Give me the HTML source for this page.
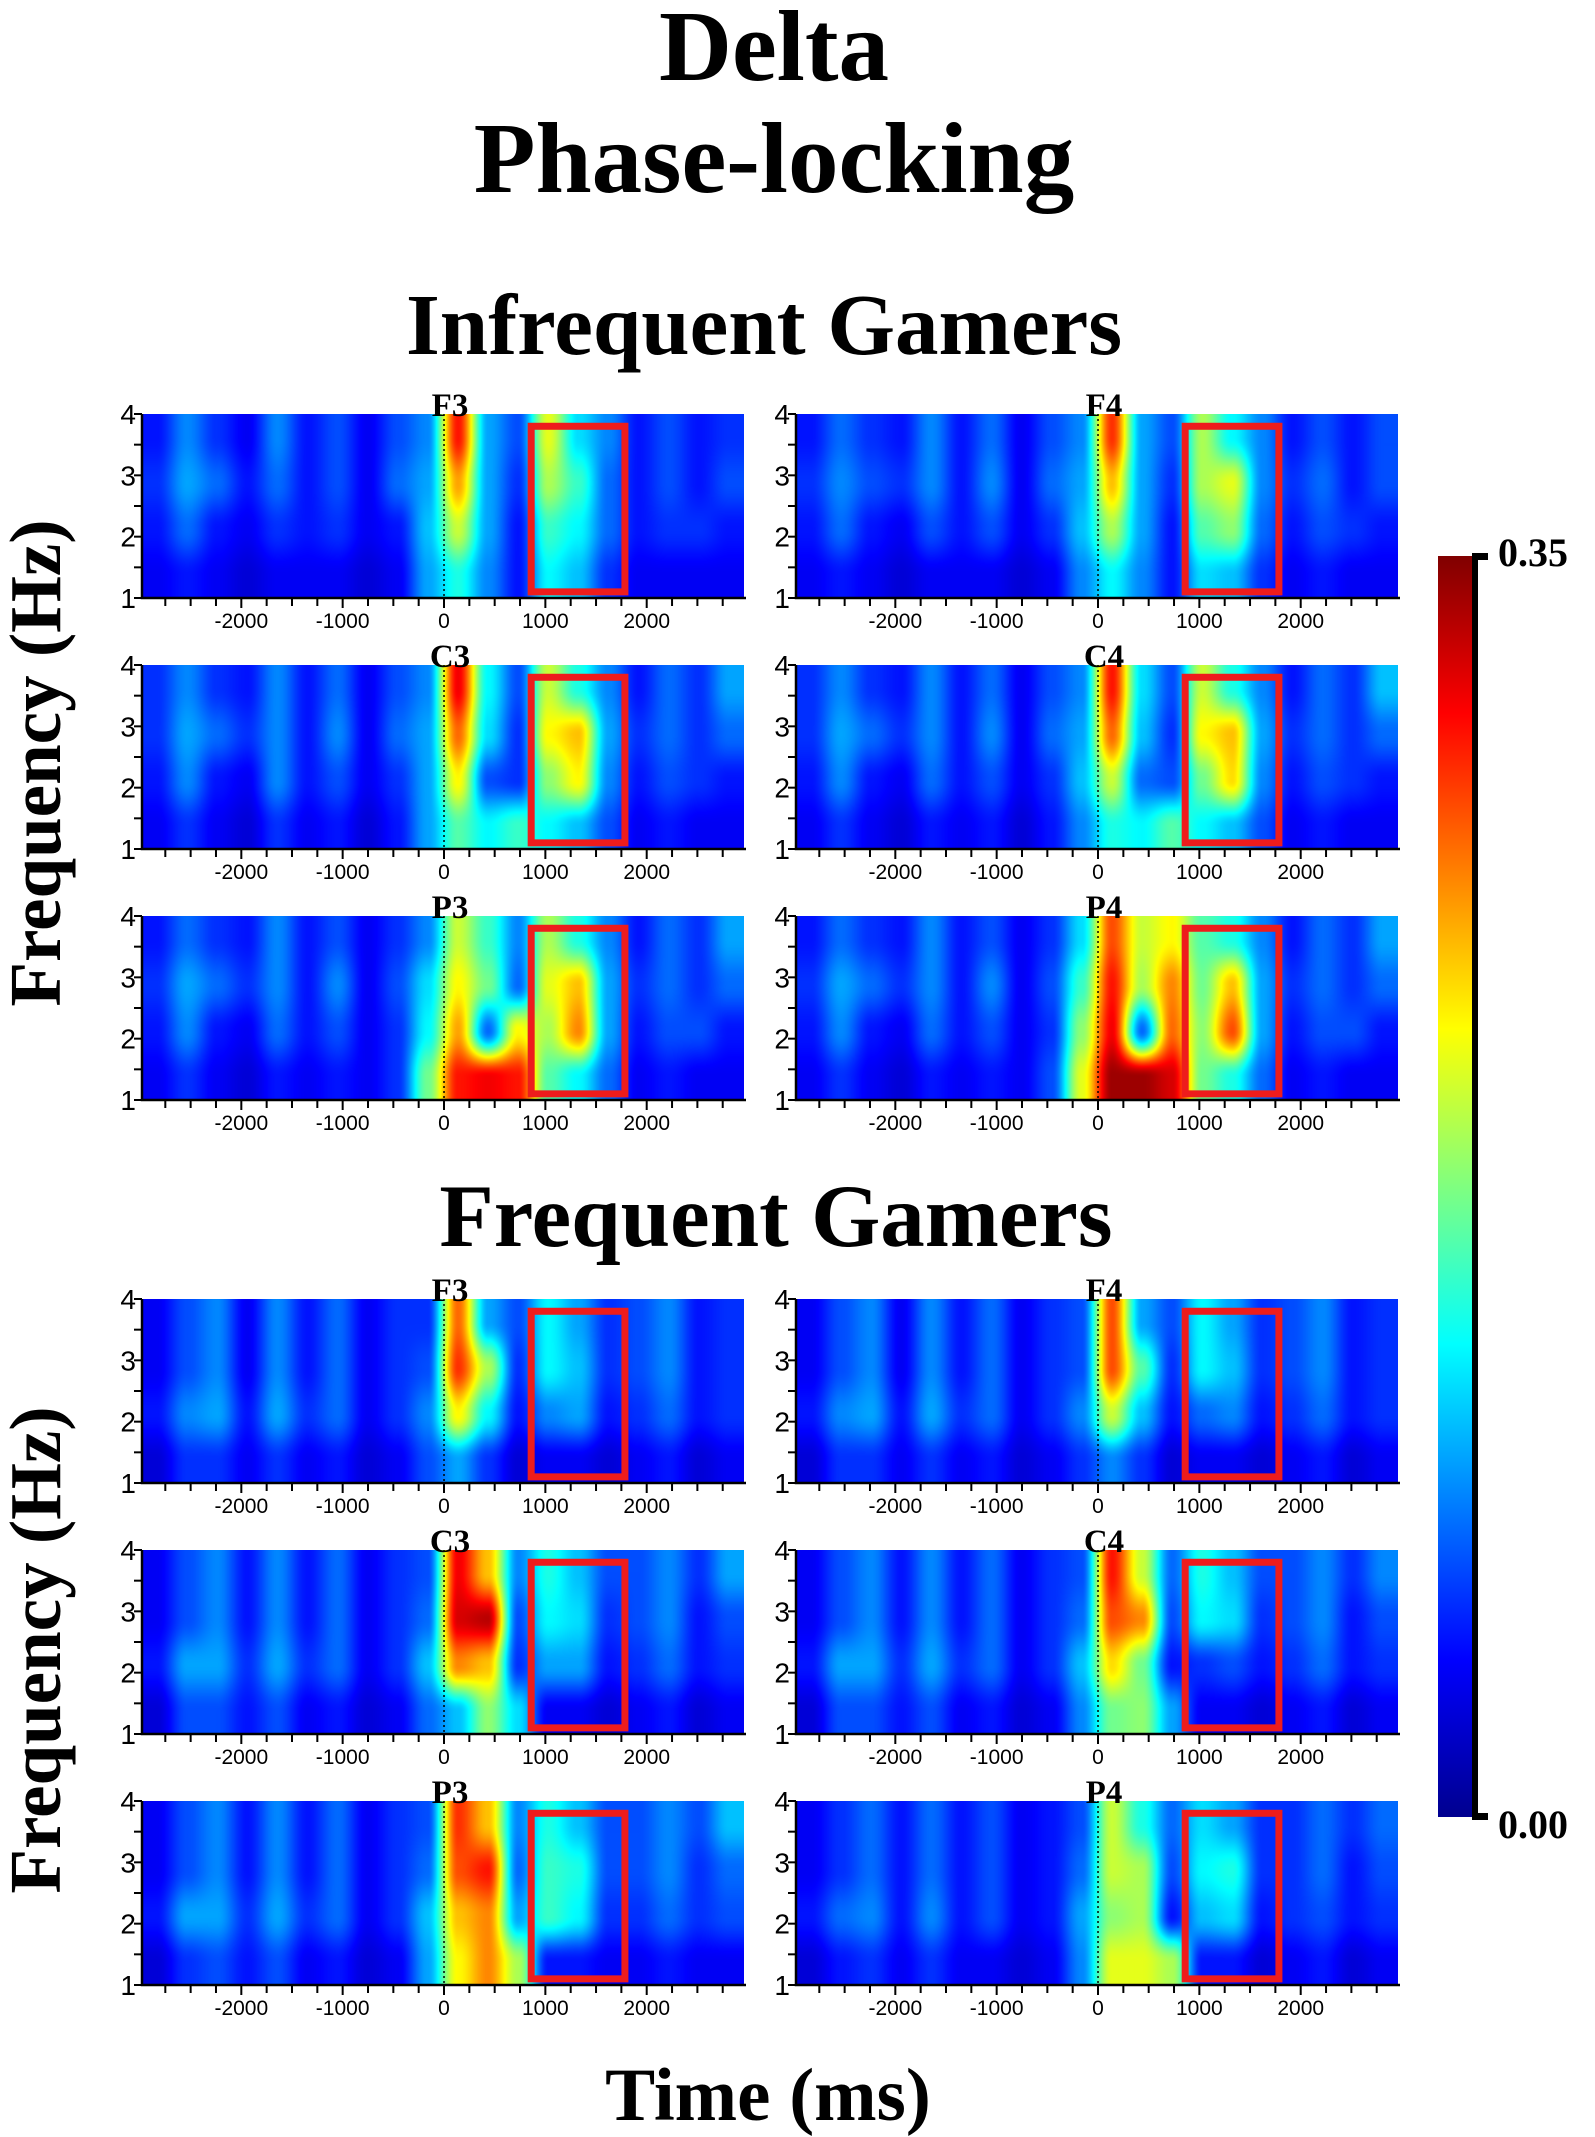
<!DOCTYPE html>
<html><head><meta charset="utf-8">
<style>
html,body{margin:0;padding:0;background:#fff;}
#wrap{position:relative;width:1595px;height:2137px;overflow:hidden;background:#fff;}
canvas{position:absolute;}
svg{position:absolute;left:0;top:0;}
.t{font-family:"Liberation Serif",serif;font-weight:bold;fill:#000;}
.tk{font-family:"Liberation Sans",sans-serif;fill:#000;}
</style></head>
<body>
<div id="wrap">
<svg id="svg" width="1595" height="2137">
<text class="t" x="774" y="80" font-size="101" text-anchor="middle">Delta</text>
<text class="t" x="774" y="192" font-size="101" text-anchor="middle">Phase-locking</text>
<text class="t" x="764" y="354" font-size="87" text-anchor="middle">Infrequent Gamers</text>
<text class="t" x="776" y="1246" font-size="89" text-anchor="middle">Frequent Gamers</text>
<text class="t" x="768" y="2120" font-size="75" text-anchor="middle">Time (ms)</text>
<text class="t" x="0" y="0" font-size="73" text-anchor="middle" transform="translate(60,763) rotate(-90)">Frequency (Hz)</text>
<text class="t" x="0" y="0" font-size="73" text-anchor="middle" transform="translate(60,1650) rotate(-90)">Frequency (Hz)</text>
<defs>
<linearGradient id="jet" x1="0" y1="1" x2="0" y2="0">
<stop offset="0" stop-color="#00008f"/><stop offset="0.125" stop-color="#0000ff"/>
<stop offset="0.375" stop-color="#00ffff"/><stop offset="0.625" stop-color="#ffff00"/>
<stop offset="0.875" stop-color="#ff0000"/><stop offset="1" stop-color="#800000"/>
</linearGradient>
</defs>
<rect x="1438" y="556" width="35" height="1261" fill="url(#jet)"/>
<rect x="1472" y="556" width="6" height="1261" fill="#000"/>
<rect x="1472" y="553" width="16" height="7" fill="#000"/>
<rect x="1472" y="1813" width="16" height="7" fill="#000"/>
<text class="t" x="1498" y="566" font-size="40">0.35</text>
<text class="t" x="1498" y="1838" font-size="40">0.00</text>
</svg>
</div>
<script>
// ---- data ----
const channels = ["F3","F4","C3","C4","P3","P4"];
const timeTicks = [-2000,-1000,0,1000,2000];
const freqTicks = [1,2,3,4];
const timeRange = [-2980,2960];
const freqRange = [1,4];
const boxTime = [860,1785];
const boxFreq = [1.1,3.8];
const vmax = 0.35;
// each grid: 4 rows (4Hz→1Hz) × 20 time columns (-2830..2813 ms)
const infF3 = [
[.05,.09,.06,.04,.09,.05,.07,.04,.07,.09,.30,.10,.07,.21,.12,.09,.05,.07,.05,.06],
[.06,.10,.08,.05,.08,.05,.07,.04,.08,.10,.25,.10,.06,.19,.15,.08,.05,.07,.05,.07],
[.05,.08,.05,.04,.06,.05,.06,.04,.05,.11,.20,.10,.05,.15,.13,.08,.05,.06,.06,.05],
[.04,.05,.04,.03,.04,.04,.04,.03,.04,.10,.14,.09,.05,.13,.11,.06,.04,.04,.04,.04]];
const infF4 = [
[.05,.08,.06,.05,.09,.05,.08,.04,.07,.09,.29,.10,.07,.19,.13,.09,.05,.07,.05,.07],
[.06,.09,.07,.06,.09,.05,.09,.04,.08,.10,.24,.10,.06,.19,.21,.09,.06,.08,.05,.07],
[.05,.08,.05,.04,.07,.05,.07,.04,.06,.11,.19,.10,.05,.16,.18,.08,.05,.07,.06,.05],
[.04,.05,.04,.03,.04,.04,.04,.03,.04,.09,.13,.09,.05,.12,.11,.06,.04,.05,.04,.04]];
const infC3 = [
[.06,.09,.06,.05,.09,.05,.08,.04,.07,.09,.31,.13,.07,.20,.14,.09,.05,.08,.06,.10],
[.06,.10,.08,.06,.09,.05,.09,.04,.08,.10,.27,.12,.06,.22,.24,.10,.06,.08,.06,.08],
[.05,.09,.05,.04,.09,.05,.07,.04,.06,.10,.22,.07,.06,.18,.22,.09,.05,.07,.06,.05],
[.04,.06,.04,.03,.06,.04,.05,.03,.05,.10,.16,.13,.15,.13,.11,.07,.04,.05,.04,.04]];
const infC4 = [
[.06,.09,.06,.05,.09,.05,.08,.04,.07,.09,.30,.12,.07,.20,.14,.09,.05,.08,.06,.11],
[.06,.10,.08,.06,.09,.05,.09,.04,.08,.10,.27,.11,.06,.22,.24,.10,.06,.08,.06,.08],
[.05,.09,.05,.04,.08,.05,.07,.04,.06,.11,.20,.08,.07,.17,.23,.09,.05,.07,.06,.05],
[.04,.06,.04,.03,.05,.04,.05,.03,.05,.09,.14,.13,.16,.13,.11,.07,.04,.05,.04,.04]];
const infP3 = [
[.05,.08,.06,.05,.09,.05,.07,.04,.06,.09,.20,.15,.09,.19,.14,.09,.05,.08,.06,.10],
[.06,.10,.08,.06,.09,.05,.09,.04,.07,.12,.22,.17,.08,.21,.24,.10,.06,.08,.06,.08],
[.05,.09,.05,.04,.08,.05,.07,.04,.06,.13,.25,.08,.22,.19,.26,.10,.05,.07,.07,.05],
[.04,.06,.04,.03,.05,.04,.05,.04,.06,.17,.30,.31,.30,.16,.13,.08,.04,.05,.04,.04]];
const infP4 = [
[.05,.08,.06,.05,.09,.05,.07,.04,.06,.12,.28,.20,.22,.16,.14,.09,.05,.08,.06,.10],
[.06,.10,.08,.06,.09,.05,.09,.04,.07,.15,.30,.19,.26,.17,.24,.10,.06,.08,.06,.08],
[.05,.09,.05,.04,.08,.05,.07,.04,.06,.18,.31,.08,.27,.18,.28,.10,.05,.07,.07,.05],
[.04,.06,.04,.03,.05,.04,.05,.04,.07,.21,.34,.34,.32,.17,.14,.08,.04,.05,.04,.04]];
const frqF3 = [
[.04,.07,.09,.04,.09,.05,.08,.04,.06,.06,.27,.10,.07,.13,.10,.06,.07,.09,.05,.06],
[.04,.07,.09,.04,.09,.05,.08,.04,.06,.07,.29,.19,.06,.13,.11,.06,.07,.09,.05,.06],
[.05,.09,.10,.05,.10,.06,.08,.04,.06,.09,.22,.13,.05,.09,.10,.05,.06,.08,.05,.06],
[.03,.06,.06,.04,.06,.04,.05,.03,.04,.07,.10,.06,.03,.04,.04,.03,.04,.05,.03,.04]];
const frqF4 = [
[.04,.07,.09,.04,.09,.05,.08,.04,.06,.07,.28,.10,.07,.13,.10,.06,.07,.09,.05,.06],
[.04,.07,.09,.04,.09,.05,.08,.04,.06,.07,.28,.16,.06,.13,.11,.06,.07,.09,.05,.06],
[.05,.09,.10,.05,.10,.06,.08,.04,.06,.09,.20,.11,.05,.08,.09,.05,.06,.08,.05,.06],
[.03,.06,.06,.04,.06,.04,.05,.03,.04,.06,.09,.06,.03,.04,.04,.03,.04,.05,.03,.04]];
const frqC3 = [
[.04,.07,.09,.05,.09,.05,.08,.04,.06,.07,.31,.24,.09,.14,.11,.07,.07,.09,.06,.10],
[.04,.07,.09,.05,.09,.05,.08,.04,.06,.08,.32,.33,.07,.13,.12,.06,.07,.09,.05,.07],
[.05,.10,.10,.06,.10,.06,.08,.04,.06,.11,.26,.24,.06,.10,.10,.05,.06,.08,.05,.06],
[.03,.07,.07,.05,.07,.04,.05,.03,.04,.08,.11,.18,.12,.04,.04,.03,.04,.05,.03,.04]];
const frqC4 = [
[.04,.07,.09,.05,.09,.05,.08,.04,.06,.07,.30,.20,.08,.14,.11,.07,.07,.09,.06,.09],
[.04,.07,.09,.05,.09,.05,.08,.04,.06,.08,.28,.26,.07,.13,.12,.06,.07,.09,.05,.07],
[.05,.10,.10,.06,.10,.06,.08,.04,.06,.11,.23,.17,.05,.06,.07,.05,.06,.08,.05,.06],
[.03,.07,.07,.05,.07,.04,.05,.03,.04,.09,.17,.18,.10,.04,.04,.03,.04,.05,.03,.04]];
const frqP3 = [
[.04,.07,.09,.05,.09,.05,.08,.04,.06,.07,.29,.24,.09,.14,.11,.07,.07,.09,.07,.11],
[.04,.07,.09,.05,.09,.05,.08,.04,.06,.08,.28,.30,.08,.15,.14,.07,.07,.09,.06,.08],
[.05,.10,.10,.06,.10,.06,.08,.04,.06,.11,.24,.26,.10,.15,.13,.06,.06,.08,.06,.07],
[.03,.06,.07,.05,.07,.04,.05,.03,.04,.10,.22,.26,.19,.05,.05,.04,.04,.05,.04,.04]];
const frqP4 = [
[.04,.06,.08,.05,.08,.05,.07,.04,.05,.07,.20,.14,.08,.12,.10,.06,.06,.08,.06,.08],
[.04,.06,.08,.05,.08,.05,.07,.04,.05,.08,.20,.19,.07,.13,.14,.06,.06,.08,.05,.07],
[.05,.08,.09,.05,.09,.05,.07,.04,.05,.10,.18,.19,.05,.11,.12,.05,.06,.07,.05,.06],
[.03,.05,.06,.04,.06,.04,.04,.03,.04,.09,.21,.21,.19,.05,.05,.03,.04,.05,.03,.04]];
const groupGrids = [[infF3,infF4,infC3,infC4,infP3,infP4],[frqF3,frqF4,frqC3,frqC4,frqP3,frqP4]];

// ---- layout ----
const colX = [142,796], PW = 602, PH = 184;
const rowY = [[414,665,916],[1299,1550,1801]];
const svg = document.getElementById('svg');
const wrap = document.getElementById('wrap');
const NS = 'http://www.w3.org/2000/svg';
function mk(tag, attrs){const e=document.createElementNS(NS,tag);for(const k in attrs)e.setAttribute(k,attrs[k]);svg.appendChild(e);return e;}
function cl(x){return Math.max(0,Math.min(1,x));}
function jet(t){return [cl(1.5-Math.abs(4*t-3)),cl(1.5-Math.abs(4*t-2)),cl(1.5-Math.abs(4*t-1))];}
function sm(t){return t*t*(3-2*t);}

groupGrids.forEach((grid_s,g)=>{
  grid_s.forEach((grid,i)=>{
    const x0 = colX[i%2], y0 = rowY[g][Math.floor(i/2)];
    const xs = t => x0 + (t-timeRange[0])/(timeRange[1]-timeRange[0])*PW;
    const ys = f => y0 + PH - (f-freqRange[0])/(freqRange[1]-freqRange[0])*PH;
    const nc = grid[0].length, nr = grid.length;
    const cv = document.createElement('canvas');
    cv.width = PW; cv.height = PH;
    cv.style.left = x0+'px'; cv.style.top = y0+'px';
    
    
    wrap.insertBefore(cv, svg);
    const ctx = cv.getContext('2d');
    const img = ctx.createImageData(PW,PH);
    for(let py=0;py<PH;py++){
      let fy = (py+0.5)/PH*nr-0.5; fy=Math.max(0,Math.min(nr-1,fy));
      const r0=Math.floor(fy), r1=Math.min(nr-1,r0+1), wy=sm(fy-r0);
      for(let px=0;px<PW;px++){
        let fx=(px+0.5)/PW*nc-0.5; fx=Math.max(0,Math.min(nc-1,fx));
        const c0=Math.floor(fx), c1=Math.min(nc-1,c0+1), wx=sm(fx-c0);
        const v=(grid[r0][c0]*(1-wx)+grid[r0][c1]*wx)*(1-wy)+(grid[r1][c0]*(1-wx)+grid[r1][c1]*wx)*wy;
        const c=jet(v/vmax), k=(py*PW+px)*4;
        img.data[k]=c[0]*255; img.data[k+1]=c[1]*255; img.data[k+2]=c[2]*255; img.data[k+3]=255;
      }
    }
    ctx.putImageData(img,0,0);
    const nm = (g?'frequent':'infrequent')+'-'+channels[i].toLowerCase();
    const zl = mk('line',{x1:xs(0),x2:xs(0),y1:y0,y2:y0+PH,stroke:'#000','stroke-width':1.5,'stroke-dasharray':'2,3'});
    
    
    const bx = mk('rect',{x:xs(boxTime[0]),y:ys(boxFreq[1]),width:xs(boxTime[1])-xs(boxTime[0]),height:ys(boxFreq[0])-ys(boxFreq[1]),fill:'none',stroke:'#ee1c1c','stroke-width':7});
    
    
    const ax = mk('path',{d:`M${x0},${y0} V${y0+PH} H${x0+PW+2}`,fill:'none',stroke:'#000','stroke-width':2.5});
    
    
    for(let f=1; f<=4.001; f+=0.5){
      mk('line',{x1:x0-8,x2:x0,y1:ys(f),y2:ys(f),stroke:'#000','stroke-width':2});
    }
    freqTicks.forEach(f=>{
      const t = mk('text',{x:x0-6,y:ys(f)+10,'font-size':28,'text-anchor':'end',class:'tk'});
      t.textContent = f;
      
      
    });
    for(let tm=-3000; tm<=timeRange[1]; tm+=250){
      if(tm<timeRange[0]) continue;
      mk('line',{x1:xs(tm),x2:xs(tm),y1:y0+PH,y2:y0+PH+(tm%1000===0?10:8),stroke:'#000','stroke-width':2});
    }
    timeTicks.forEach(tm=>{
      const t = mk('text',{x:xs(tm),y:y0+PH+30,'font-size':21,'text-anchor':'middle',class:'tk'});
      t.textContent = tm;
      
      
    });
    const lb = mk('text',{x:xs(0)+6,y:y0+2,'font-size':33,'text-anchor':'middle',class:'t'});
    lb.textContent = channels[i];
    
    
  });
});
</script>
</body></html>
